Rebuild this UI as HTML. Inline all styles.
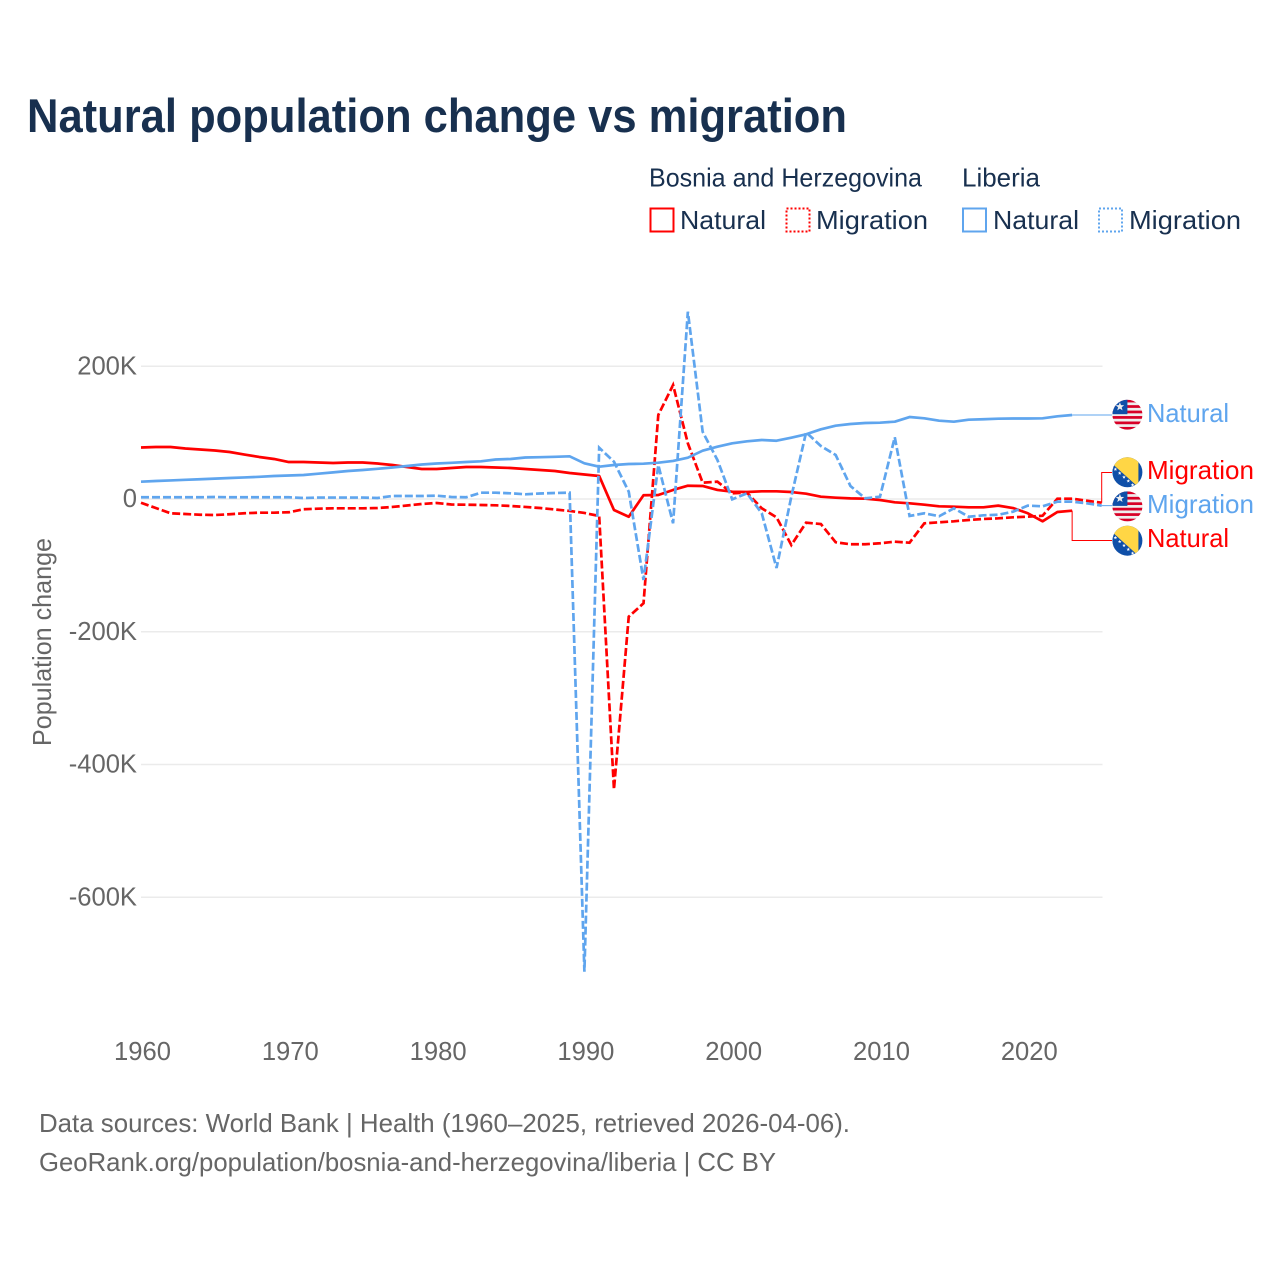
<!DOCTYPE html>
<html lang="en">
<head>
<meta charset="utf-8">
<title>Natural population change vs migration</title>
<style>
html,body{margin:0;padding:0;background:#fff;width:1280px;height:1280px;overflow:hidden}
svg{display:block}
text{font-family:"Liberation Sans",sans-serif}
.dark{fill:#18304f;font-size:25.6px}
.grey{fill:#666;font-size:25.6px}
</style>
</head>
<body>
<svg id="chart" xmlns="http://www.w3.org/2000/svg" width="1280" height="1280" viewBox="0 0 1280 1280">
  <rect x="0" y="0" width="1280" height="1280" fill="#fff"/>
  <text x="27" y="132" textLength="820" lengthAdjust="spacingAndGlyphs" font-size="47" font-weight="700" fill="#18304f">Natural population change vs migration</text>

  <g>
    <text class="dark" x="649" y="186.5" textLength="273" lengthAdjust="spacingAndGlyphs">Bosnia and Herzegovina</text>
    <text class="dark" x="962" y="186.5" textLength="78" lengthAdjust="spacingAndGlyphs">Liberia</text>
    <rect x="650.5" y="208.5" width="23" height="23" fill="none" stroke="#ff0000" stroke-width="2"/>
    <text class="dark" x="680" y="229" textLength="86" lengthAdjust="spacingAndGlyphs">Natural</text>
    <rect x="786.5" y="208.5" width="23" height="23" fill="none" stroke="#ff0000" stroke-width="2" stroke-dasharray="2 2"/>
    <text class="dark" x="816" y="229" textLength="112" lengthAdjust="spacingAndGlyphs">Migration</text>
    <rect x="963" y="208.5" width="23" height="23" fill="none" stroke="#5fa5ee" stroke-width="2"/>
    <text class="dark" x="993" y="229" textLength="86" lengthAdjust="spacingAndGlyphs">Natural</text>
    <rect x="1099" y="208.5" width="23" height="23" fill="none" stroke="#5fa5ee" stroke-width="2" stroke-dasharray="2 2"/>
    <text class="dark" x="1129" y="229" textLength="112" lengthAdjust="spacingAndGlyphs">Migration</text>
  </g>

  <text class="grey" transform="translate(51,746) rotate(-90)" x="0" y="0" textLength="208" lengthAdjust="spacingAndGlyphs">Population change</text>

  <g id="grid"></g>
  <g id="ylabels"></g>
  <g id="xlabels"></g>
  <g id="connectors"></g>
  <g id="series"></g>

  <defs>
    <clipPath id="flag-clip"><circle cx="0" cy="0" r="15"/></clipPath>
  </defs>
  <g id="flags"></g>

  <g>
    <text x="1147" y="422" font-size="25.6" fill="#5fa5ee" textLength="82" lengthAdjust="spacingAndGlyphs">Natural</text>
    <text x="1147" y="479" font-size="25.6" fill="#ff0000" textLength="107" lengthAdjust="spacingAndGlyphs">Migration</text>
    <text x="1147" y="513" font-size="25.6" fill="#5fa5ee" textLength="107" lengthAdjust="spacingAndGlyphs">Migration</text>
    <text x="1147" y="547" font-size="25.6" fill="#ff0000" textLength="82" lengthAdjust="spacingAndGlyphs">Natural</text>
  </g>

  <text class="grey" x="39" y="1132" textLength="811" lengthAdjust="spacingAndGlyphs">Data sources: World Bank | Health (1960–2025, retrieved 2026-04-06).</text>
  <text class="grey" x="39" y="1171" textLength="737" lengthAdjust="spacingAndGlyphs">GeoRank.org/population/bosnia-and-herzegovina/liberia | CC BY</text>
</svg>

<script>
var firstYear = 1960;
var xTickYears = [1960, 1970, 1980, 1990, 2000, 2010, 2020];
var yTickValues = [200, 0, -200, -400, -600];
var yTickLabels = ["200K", "0", "-200K", "-400K", "-600K"];

// Values in thousands, one per year starting at 1960
var bosniaNatural = [
  77.6,78.3,78.3,76.1,74.6,73.1,70.8,67,63.3,60.3,
  55.7,55.7,55,54.2,55,55,53.5,51.2,48.2,45.2,
  45.2,46.7,48.2,48.2,47.5,46.7,45.2,43.7,42.2,39.2,
  36.9,34.7,-16.6,-26.7,5.6,6,13.6,20,19.6,13.6,
  11,10.5,11.6,11.6,10.5,8,3.5,2,1,0.5,
  -1.5,-5,-6.5,-8.6,-11,-11.6,-12.5,-12.5,-10,-13.6,
  -21.5,-33.6,-19.6,-17.6
];
var bosniaMigration = [
  -5.6,-13.6,-21.5,-22.6,-23.7,-24.1,-23,-21.5,-20.6,-20.6,
  -20,-15.5,-14.6,-14,-14,-14,-13.6,-12,-9.8,-7.5,
  -6,-8.3,-8.6,-9,-9.5,-10.5,-12,-13.6,-15.8,-18,
  -21,-25.6,-437.4,-177.3,-157.1,126.6,171.8,83.9,24.6,26.1,
  8.6,9.5,-14,-27.6,-69.3,-35.7,-37.7,-65.2,-68.2,-68.2,
  -66.7,-64.3,-65.8,-36.6,-35.1,-33.6,-31.6,-30.1,-29.1,-27.6,
  -26.7,-25.2,0.5,0.5,-2.6,-5.6
];
var liberiaNatural = [
  26.1,27.1,28,28.9,29.8,30.7,31.6,32.5,33.4,34.7,
  35.4,36.2,38.1,40.1,42.2,43.7,45.5,47.5,49.7,52,
  53.5,54.5,55.7,56.8,59.5,60.3,62.5,63,63.6,64.3,
  53.8,48.7,51.2,52.7,53.2,54.7,57.3,62.2,72.8,78.8,
  83.9,86.9,88.9,87.8,92.4,97.5,105,110.4,113,114.5,
  115,116.5,123.5,121.6,118,116.5,119.5,120.2,121,121.3,
  121.3,121.6,124.6,126.6
];
var liberiaMigration = [
  2.6,2.6,2.6,2.6,2.6,3,2.6,2.6,2.6,2.6,
  2.6,1.5,2.2,2.2,2.2,2.2,1.5,4.5,4.5,4.5,
  5,3,2.6,9.5,9.5,8.6,7.1,8.3,9,9.5,
  -712.2,77.3,56.2,11,-122,51.2,-36.6,282.2,101.4,58.8,
  -0.5,8.6,-21.5,-104,3.5,100.5,79.8,66.3,19.6,1,
  3.5,93,-25.6,-21.5,-26,-14,-26.7,-24.6,-23.7,-19.1,
  -10,-11,-4,-4,-6.5,-10
];

var NS = "http://www.w3.org/2000/svg";
var RED = "#ff0000";
var BLUE = "#5fa5ee";

function xScale(year) { return 141 + (year - 1960) * 14.78; }
function yScale(v) { return 499 - v * 0.66375; }

function make(tag, parent) {
  var el = document.createElementNS(NS, tag);
  parent.appendChild(el);
  return el;
}

var grid = document.getElementById("grid");
var ylabels = document.getElementById("ylabels");
yTickValues.forEach(function (v, i) {
  var line = make("line", grid);
  
  
  line.setAttribute("x1", 141);
  line.setAttribute("x2", 1102.5);
  line.setAttribute("y1", yScale(v));
  line.setAttribute("y2", yScale(v));
  line.setAttribute("stroke", "#ebebeb");
  line.setAttribute("stroke-width", "1.5");
  var t = make("text", ylabels);
  
  
  t.setAttribute("class", "grey");
  t.setAttribute("x", 137);
  t.setAttribute("y", yScale(v) + 8);
  t.setAttribute("text-anchor", "end");
  t.textContent = yTickLabels[i];
});

var xlabels = document.getElementById("xlabels");
xTickYears.forEach(function (yr) {
  var t = make("text", xlabels);
  
  
  t.setAttribute("class", "grey");
  t.setAttribute("x", xScale(yr) + 1.5);
  t.setAttribute("y", 1060);
  t.setAttribute("text-anchor", "middle");
  t.textContent = String(yr);
});

function pathFor(values) {
  return values.map(function (v, i) {
    return (i ? "L" : "M") + xScale(firstYear + i).toFixed(2) + " " + yScale(v).toFixed(2);
  }).join(" ");
}

var seriesGroup = document.getElementById("series");

var lineBN = make("path", seriesGroup);


lineBN.setAttribute("d", pathFor(bosniaNatural));
lineBN.setAttribute("fill", "none");
lineBN.setAttribute("stroke", RED);
lineBN.setAttribute("stroke-width", "2.7");
lineBN.setAttribute("stroke-linejoin", "round");

var lineBM = make("path", seriesGroup);


lineBM.setAttribute("d", pathFor(bosniaMigration));
lineBM.setAttribute("fill", "none");
lineBM.setAttribute("stroke", RED);
lineBM.setAttribute("stroke-width", "2.7");
lineBM.setAttribute("stroke-dasharray", "8 3");

var lineLN = make("path", seriesGroup);


lineLN.setAttribute("d", pathFor(liberiaNatural));
lineLN.setAttribute("fill", "none");
lineLN.setAttribute("stroke", BLUE);
lineLN.setAttribute("stroke-width", "2.7");
lineLN.setAttribute("stroke-linejoin", "round");

var lineLM = make("path", seriesGroup);


lineLM.setAttribute("d", pathFor(liberiaMigration));
lineLM.setAttribute("fill", "none");
lineLM.setAttribute("stroke", BLUE);
lineLM.setAttribute("stroke-width", "2.7");
lineLM.setAttribute("stroke-dasharray", "8 3");

function lastPoint(values) {
  var i = values.length - 1;
  return [xScale(firstYear + i), yScale(values[i])];
}

var connectors = document.getElementById("connectors");
var pLN = lastPoint(liberiaNatural);
var pBM = lastPoint(bosniaMigration);
var pLM = lastPoint(liberiaMigration);
var pBN = lastPoint(bosniaNatural);

var c1 = make("path", connectors);


c1.setAttribute("d", "M" + pLN[0] + " " + pLN[1] + " H1112");
c1.setAttribute("fill", "none");
c1.setAttribute("stroke", BLUE);
c1.setAttribute("stroke-width", "1");

var c2 = make("path", connectors);


c2.setAttribute("d", "M" + pBM[0] + " " + pBM[1] + " V472.5 H1112");
c2.setAttribute("fill", "none");
c2.setAttribute("stroke", RED);
c2.setAttribute("stroke-width", "1");

var c3 = make("path", connectors);


c3.setAttribute("d", "M" + pLM[0] + " " + pLM[1] + " H1112");
c3.setAttribute("fill", "none");
c3.setAttribute("stroke", BLUE);
c3.setAttribute("stroke-width", "1");

var c4 = make("path", connectors);


c4.setAttribute("d", "M" + pBN[0] + " " + pBN[1] + " V540.5 H1112");
c4.setAttribute("fill", "none");
c4.setAttribute("stroke", RED);
c4.setAttribute("stroke-width", "1");

function starPoints(cx, cy, R) {
  var pts = [];
  for (var i = 0; i < 10; i++) {
    var r = i % 2 ? R * 0.42 : R;
    var a = -Math.PI / 2 + i * Math.PI / 5;
    pts.push((cx + r * Math.cos(a)).toFixed(2) + "," + (cy + r * Math.sin(a)).toFixed(2));
  }
  return pts.join(" ");
}

var flagsGroup = document.getElementById("flags");

function drawLiberia(g) {
  var base = make("rect", g);
  base.setAttribute("x", -16); base.setAttribute("y", -16);
  base.setAttribute("width", 32); base.setAttribute("height", 32);
  base.setAttribute("fill", "#eee");
  for (var s = 0; s < 6; s++) {
    var stripe = make("rect", g);
    stripe.setAttribute("x", -16);
    stripe.setAttribute("y", -15 + s * 5.45);
    stripe.setAttribute("width", 32);
    stripe.setAttribute("height", 2.73);
    stripe.setAttribute("fill", "#d80027");
  }
  var canton = make("rect", g);
  canton.setAttribute("x", -16); canton.setAttribute("y", -16);
  canton.setAttribute("width", 16); canton.setAttribute("height", 15.5);
  canton.setAttribute("fill", "#0f4fa8");
  var star = make("polygon", g);
  star.setAttribute("points", starPoints(-7.5, -8, 4.5));
  star.setAttribute("fill", "#eee");
}

function drawBosnia(g) {
  var base = make("rect", g);
  base.setAttribute("x", -16); base.setAttribute("y", -16);
  base.setAttribute("width", 32); base.setAttribute("height", 32);
  base.setAttribute("fill", "#0f4fa8");
  var tri = make("polygon", g);
  tri.setAttribute("points", "-23.3,-16 11,-16 11,15");
  tri.setAttribute("fill", "#ffd645");
  for (var k = 0; k < 6; k++) {
    var st = make("polygon", g);
    st.setAttribute("points", starPoints(-12 + k * 4.3, -3 + k * 3.9, 1.9));
    st.setAttribute("fill", "#fff");
  }
}

var flagLN = make("g", flagsGroup);


flagLN.setAttribute("transform", "translate(1127.4,414.7)");
flagLN.setAttribute("clip-path", "url(#flag-clip)");
drawLiberia(flagLN);

var flagBM = make("g", flagsGroup);


flagBM.setAttribute("transform", "translate(1127.4,472.3)");
flagBM.setAttribute("clip-path", "url(#flag-clip)");
drawBosnia(flagBM);

var flagLM = make("g", flagsGroup);


flagLM.setAttribute("transform", "translate(1127.4,506.4)");
flagLM.setAttribute("clip-path", "url(#flag-clip)");
drawLiberia(flagLM);

var flagBN = make("g", flagsGroup);


flagBN.setAttribute("transform", "translate(1127.4,540.7)");
flagBN.setAttribute("clip-path", "url(#flag-clip)");
drawBosnia(flagBN);
</script>
</body>
</html>
